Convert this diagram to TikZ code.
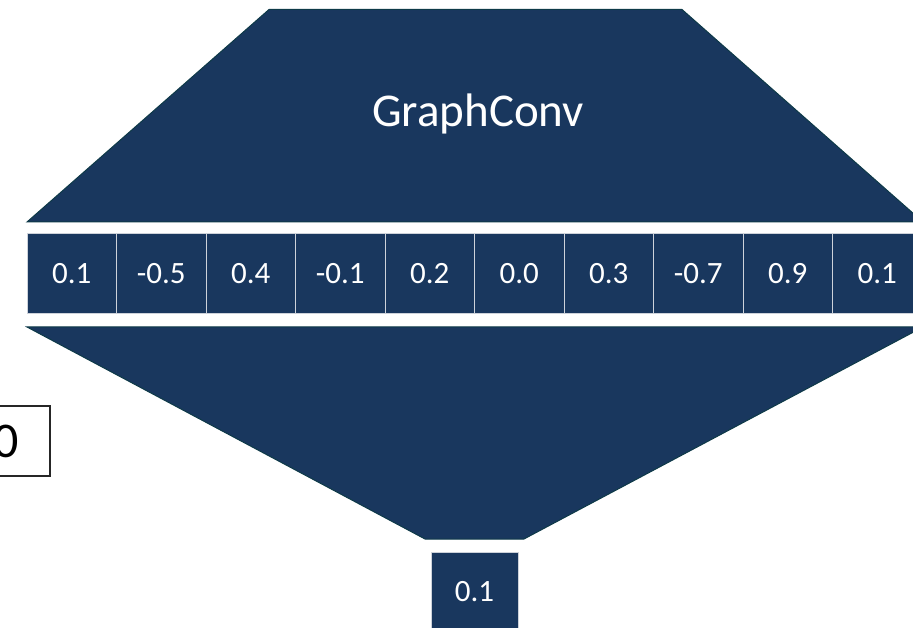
\documentclass[tikz,border=0pt]{standalone}
\usepackage{fontspec}
\setmainfont{Carlito}
\definecolor{navy}{RGB}{25,55,94}
\definecolor{edgeteal}{RGB}{14,58,72}
\definecolor{cellline}{RGB}{205,210,218}
\begin{document}
\begin{tikzpicture}[x=1pt,y=1pt,
  layer/.style={fill=navy,draw=edgeteal,line width=1pt,line join=miter},
  cell/.style={fill=navy,draw=cellline,line width=1pt,minimum width=89.5pt,
    minimum height=80pt,inner sep=0pt,text=white,font=\fontsize{31}{31}\selectfont},
  plainbox/.style={fill=white,draw=black!85,line width=1.3pt}]
\useasboundingbox (0,0) rectangle (913,627);
\clip (0,0) rectangle (913,627);

% upper trapezoid (the convolution layer)
\path[layer] (269,617.5) -- (682,617.5) -- (923,405) -- (27,405) -- cycle;
\node[text=white,font=\fontsize{47}{47}\selectfont,anchor=base,inner sep=0pt]
  (title) at (478,500) {GraphConv};

% feature vector
\foreach \v [count=\i from 0] in {0.1,-0.5,0.4,-0.1,0.2,0.0,0.3,-0.7,0.9,0.1} {
  \node[cell] (c\i) at ({27+89.5*(\i+0.5)},353) {\v};
}

% lower trapezoid (pooling)
\path[layer] (27,300) -- (923,300) -- (524,88) -- (425,88) -- cycle;

% pooled output
\node[cell,minimum width=87pt] (out) at (474.5,35) {0.1};

% partially visible input box at the left edge
\draw[plainbox] (-60,151) rectangle (50,221);
\node[anchor=east,inner sep=0pt,font=\fontsize{50}{50}\selectfont] (lbl) at (19,186) {0};
\end{tikzpicture}
\end{document}
